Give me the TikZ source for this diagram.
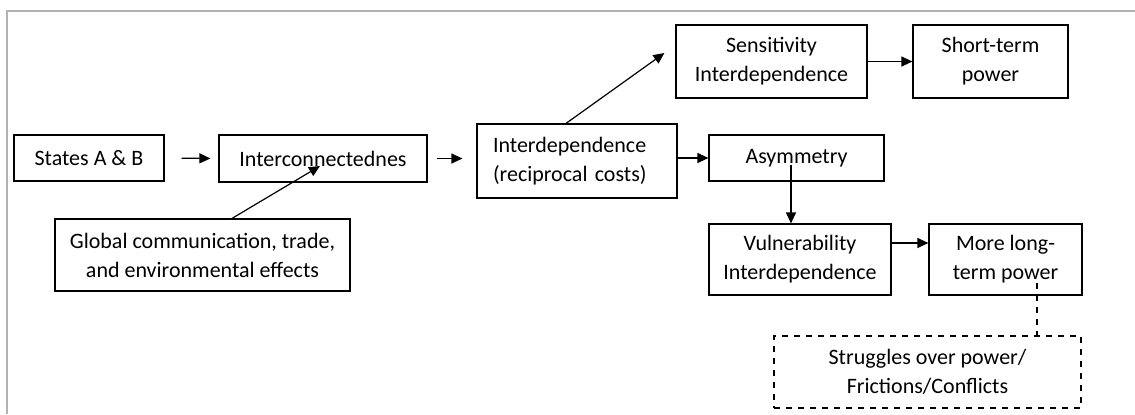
\documentclass[tikz,border=0pt]{standalone}
\usepackage{fontspec}
\setmainfont{Carlito}
\usetikzlibrary{calc}
\usetikzlibrary{arrows.meta}

\tikzset{
	box/.style={draw, line width=0.6pt, align=center, inner sep=0pt,
		font=\fontsize{11}{14.5}\selectfont},
	arr/.style={-{Triangle[length=5.5pt,width=5pt]}, line width=0.6pt},
}

\begin{document}
\begin{tikzpicture}[x=0.5pt, y=-0.5pt]
	\useasboundingbox (0,0) rectangle (1135,414);
	\draw[gray!60, line width=0.8pt] (7,414) -- (7,11) -- (1135,11);

	\node[box, minimum width=75pt, minimum height=23pt]		(states)	at (89,158)		{States A \& B};
	\node[box, minimum width=104pt, minimum height=23.5pt]	(inter)		at (323,158.5)	{Interconnectednes};
	\node[box, minimum width=147.5pt, minimum height=36pt]	(global)	at (202.5,255)	{Global communication, trade,\\and environmental effects};
	\node[box, text width=84pt, inner xsep=8pt, align=left, minimum height=37pt]
															(interdep)	at (577,161)	{Interdependence\\(reciprocal costs)};
	\node[box, minimum width=95.5pt, minimum height=36.5pt]	(sens)		at (771.5,61.5)	{Sensitivity\\Interdependence};
	\node[box, minimum width=77.5pt, minimum height=36.5pt]	(short)		at (990.5,61.5)	{Short-term\\power};
	\node[box, minimum width=87.5pt, minimum height=23pt]	(asym)		at (796.5,158)	{Asymmetry};
	\node[box, minimum width=91pt, minimum height=35.5pt]	(vuln)		at (800,259.5)	{Vulnerability\\Interdependence};
	\node[box, minimum width=76.5pt, minimum height=35.5pt]	(more)		at (1005.5,259.5)	{More long-\\term power};
	\node[box, dashed, minimum width=153.5pt, minimum height=36pt]
															(strug)		at (927.5,372)	{Struggles over power/\\Frictions/Conflicts};

%	\draw (states.east) -- (inter.west);
	\draw[arr, shorten <=8.5pt, shorten >=4pt] (states.east) -- (inter.west);
	\draw[arr, shorten <=4.5pt, shorten >=7pt] (inter.east) -- (inter.east -| interdep.west);
	\draw[arr] ($(global.north)+(29.5,0)$) -- ($(inter.center)+(-3,7.5)$);
	\draw[arr] ($(interdep.north)+(-11,0)$) -- ($(sens.west)+(-11,-8.5)$);
	\draw[arr] (asym.west -| interdep.east) -- (asym.west);
	\draw[arr] (sens.east) -- (short.west);
	\coordinate (asymdown) at ($(asym.center)+(-5.5,7)$);
	\draw[arr] (asymdown) -- (asymdown |- vuln.north);
	\coordinate (vulnout) at ($(vuln.east)+(0,-16.5)$);
	\draw[arr] (vulnout) -- (vulnout -| more.west);
	\coordinate (moredown) at ($(more.center)+(31.5,23.5)$);
	\draw[dashed, line width=0.6pt] (moredown) -- (moredown |- strug.north);
\end{tikzpicture}
\end{document}
